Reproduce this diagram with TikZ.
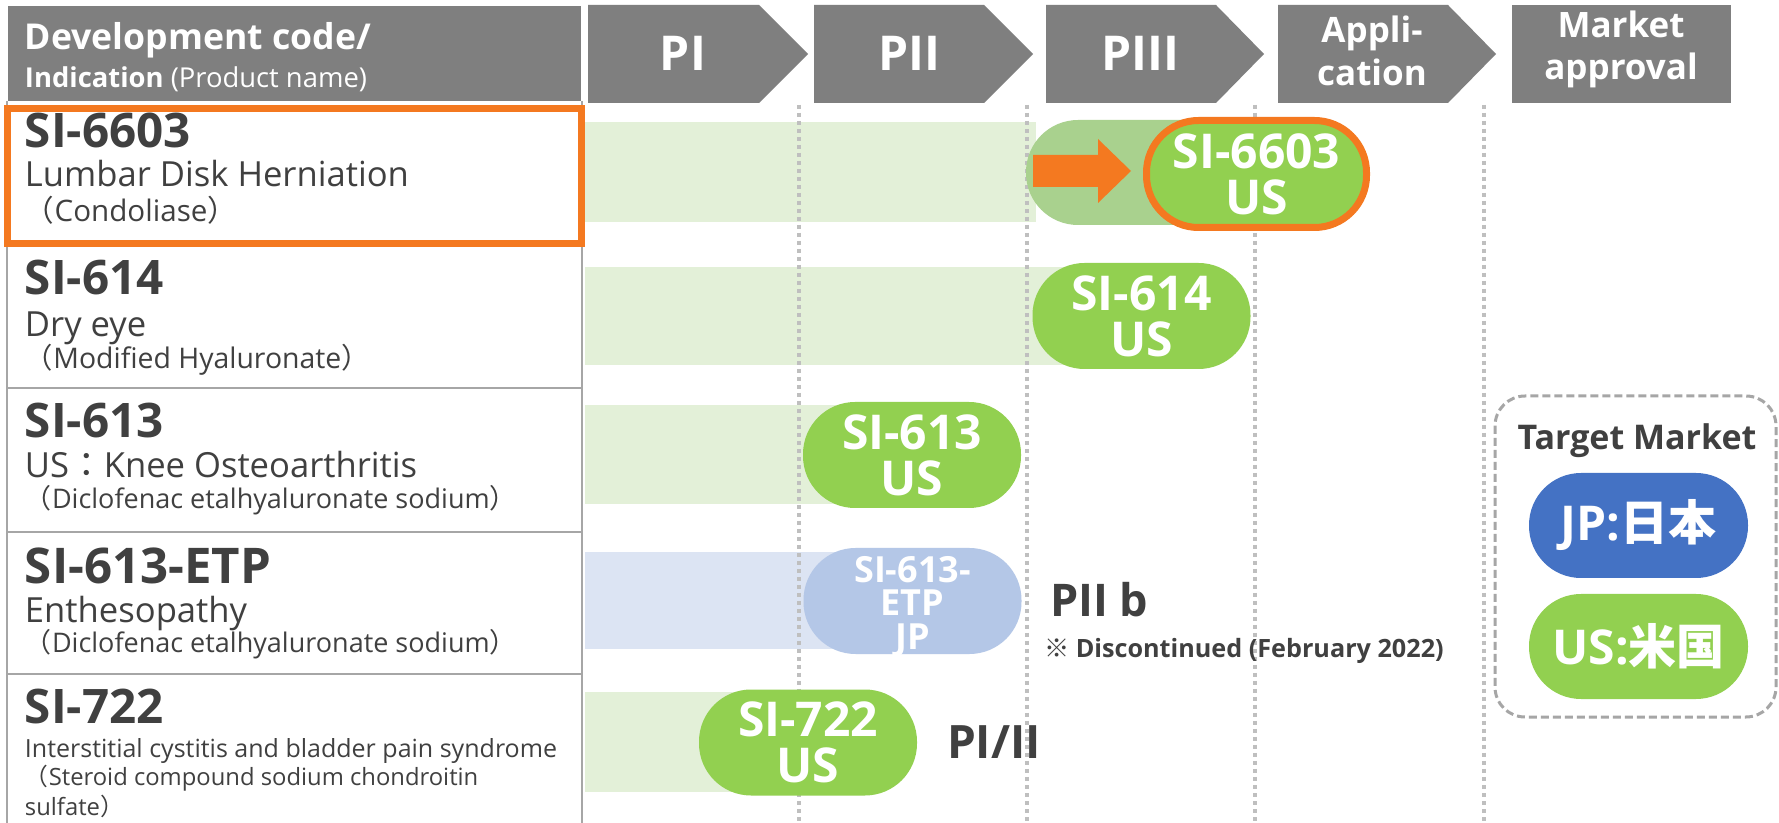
\documentclass[tikz,border=0pt]{standalone}
\usepackage{fontspec}
\setmainfont{Open Sans}
\newfontfamily\cjk{Noto Sans CJK JP}
\definecolor{hdr}{HTML}{7F7F7F}
\definecolor{txt}{HTML}{404040}
\definecolor{grn}{HTML}{92D050}
\definecolor{lgrn}{HTML}{A9D18E}
\definecolor{org}{HTML}{F47920}
\definecolor{blu}{HTML}{4472C4}
\definecolor{lblu}{HTML}{B4C7E7}
\definecolor{dotg}{HTML}{BFBFBF}
\definecolor{bord}{HTML}{A6A6A6}
\definecolor{bandg}{HTML}{E3F0D8}
\definecolor{bandb}{HTML}{DCE4F3}
\newcommand{\fsz}[1]{\fontsize{#1}{#1}\selectfont}
\newcommand{\lp}{{\cjk （}}
\newcommand{\rp}{{\cjk ）}}
\begin{document}
\begin{tikzpicture}[x=0.5pt,y=-0.5pt,
  every node/.style={inner sep=0pt,outer sep=0pt},
  hlab/.style={text=white,anchor=base,font=\bfseries\fsz{24}},
  hlab2/.style={text=white,anchor=base,font=\bfseries\fsz{17.5}},
  codetxt/.style={anchor=base west,text=txt,font=\bfseries\fsz{23.8}},
  indic/.style={anchor=base west,text=txt,font=\fsz{17.3}},
  prod/.style={anchor=base west,text=txt,font=\fsz{13.5}},
  small/.style={anchor=base west,text=txt,font=\fsz{12.5}},
  pill/.style={rounded corners=26pt,minimum width=109pt,minimum height=53pt,text=white,align=center,font=\bfseries\fontsize{24}{23}\selectfont},
  etpline/.style={text=white,anchor=base,font=\bfseries\fsz{18}},
  vline/.style={draw=dotg,line width=1.9pt,dash pattern=on 2pt off 2pt},
  rowline/.style={draw=bord,line width=1.2pt},
  note/.style={anchor=base west,text=txt,font=\bfseries\fsz{22.5}}]
\useasboundingbox (0,0) rectangle (1779,823);
\fill[white] (0,0) rectangle (1779,823);

% header
\fill[hdr] (8,6) rectangle (581,101);
\node[anchor=base west,text=white,font=\bfseries\fsz{17.8}] (hdev) at (25,50) {Development code/};
\node[anchor=base west,text=white,font=\fsz{13.7}] (hind) at (25,88) {\textbf{Indication} (Product name)};
\fill[hdr] (588,5) -- (759,5) -- (808,54) -- (759,103) -- (588,103) -- cycle;
\fill[hdr] (814,5) -- (984,5) -- (1033,54) -- (984,103) -- (814,103) -- cycle;
\fill[hdr] (1046,5) -- (1216,5) -- (1264,54) -- (1216,103) -- (1046,103) -- cycle;
\fill[hdr] (1278,5) -- (1448,5) -- (1496,54) -- (1448,103) -- (1278,103) -- cycle;
\fill[hdr] (1512,5) rectangle (1731,103);
\node[hlab] (hPI) at (683,71) {PI};
\node[hlab] (hPII) at (909,71) {PII};
\node[hlab] (hPIII) at (1140,71) {PIII};
\node[hlab2] (hApp1) at (1372,43) {Appli-};
\node[hlab2] (hApp2) at (1372,86) {cation};
\node[hlab2] (hMk1) at (1621,38) {Market};
\node[hlab2] (hMk2) at (1621,80) {approval};

% bands
\fill[bandg] (585,122) rectangle (1036,222);
\fill[bandg] (585,267) rectangle (1080,365);
\fill[bandg] (585,405) rectangle (850,504);
\fill[bandb] (585,552) rectangle (850,649);
\fill[bandg] (585,692) rectangle (740,792);

% dotted phase lines
\foreach \i/\xx in {1/799,2/1027,3/1255,4/1484}{
  \coordinate (v\i t) at (\xx,105);
  \coordinate (v\i b) at (\xx,823);
  \draw[vline] (v\i t) -- (v\i b);
}

% left column borders
\draw[rowline] (7,101) -- (7,823);
\draw[rowline] (582,101) -- (582,823);
\draw[rowline] (7,388) -- (582,388);
\draw[rowline] (7,532) -- (582,532);
\draw[rowline] (7,674) -- (582,674);
\draw[draw=org,line width=3.5pt] (7.5,108.5) rectangle (581.5,243.5);

% row texts
\node[codetxt] (c1) at (25,148) {SI-6603};
\node[indic] (i1) at (25,187) {Lumbar Disk Herniation};
\node[prod,font=\fsz{14.8}] (p1) at (25,222) {\lp Condoliase\rp};
\node[codetxt] (c2) at (25,295) {SI-614};
\node[indic] (i2) at (25,337) {Dry eye};
\node[prod,font=\fsz{14.2}] (p2) at (25,369) {\lp Modified Hyaluronate\rp};
\node[codetxt] (c3) at (25,438) {SI-613};
\node[indic] (i3) at (25,478) {US{\cjk ：}Knee Osteoarthritis};
\node[prod] (p3) at (25,509) {\lp Diclofenac etalhyaluronate sodium\rp};
\node[codetxt,font=\bfseries\fsz{24.6}] (c4) at (25,584) {SI-613-ETP};
\node[indic] (i4) at (25,623) {Enthesopathy};
\node[prod] (p4) at (25,653) {\lp Diclofenac etalhyaluronate sodium\rp};
\node[codetxt] (c5) at (25,723) {SI-722};
\node[small] (i5) at (25,757) {Interstitial cystitis and bladder pain syndrome};
\node[small,font=\fsz{11.9}] (p5a) at (25,785) {\lp Steroid compound sodium chondroitin};
\node[small,font=\fsz{11.9}] (p5b) at (25,815) {sulfate\rp};

% row 1: arrow background and pill
\fill[lgrn,rounded corners=26pt] (1026,120) rectangle (1310,225);
\fill[org] (1033,155) -- (1098,155) -- (1098,139) -- (1131,171) -- (1098,203) -- (1098,187) -- (1033,187) -- cycle;
\node[pill,fill=grn,draw=org,line width=3.5pt,minimum width=110pt,minimum height=53.5pt] (s6603) at (1256.5,174) {SI-6603\\US};

% pills
\node[pill,fill=grn] (s614) at (1141.5,316) {SI-614\\US};
\node[pill,fill=grn] (s613) at (912,455) {SI-613\\US};
\node[pill,fill=lblu] (s613e) at (912.5,601) {};
\node[etpline] (s613e1) at (912.5,582) {SI-613-};
\node[etpline] (s613e2) at (912.5,616) {ETP};
\node[etpline] (s613e3) at (912.5,649) {JP};
\node[pill,fill=grn] (s722) at (808,742.5) {SI-722\\US};

\node[note] (n613e) at (1050,617) {PII b};
\node[anchor=base west,text=txt,font=\bfseries\fsz{12.6}] (disc) at (1044,657) {{\cjk ※} Discontinued (February 2022)};
\node[note,font=\bfseries\fsz{23}] (n722) at (947,758) {PI/II};

% target market legend
\draw[draw=bord,line width=1.5pt,dash pattern=on 4pt off 2pt,rounded corners=15pt] (1495,396) rectangle (1776,717);
\node[anchor=base,text=txt,font=\bfseries\fsz{17}] (tm) at (1637,450) {Target Market};
\node[pill,fill=blu,minimum width=109.5pt,minimum height=52.5pt] (mJP) at (1638.5,525.5) {JP:{\cjk 日本}};
\node[pill,fill=grn,minimum width=109.5pt,minimum height=52.5pt] (mUS) at (1638.5,646.5) {US:{\cjk 米国}};
\end{tikzpicture}
\end{document}
